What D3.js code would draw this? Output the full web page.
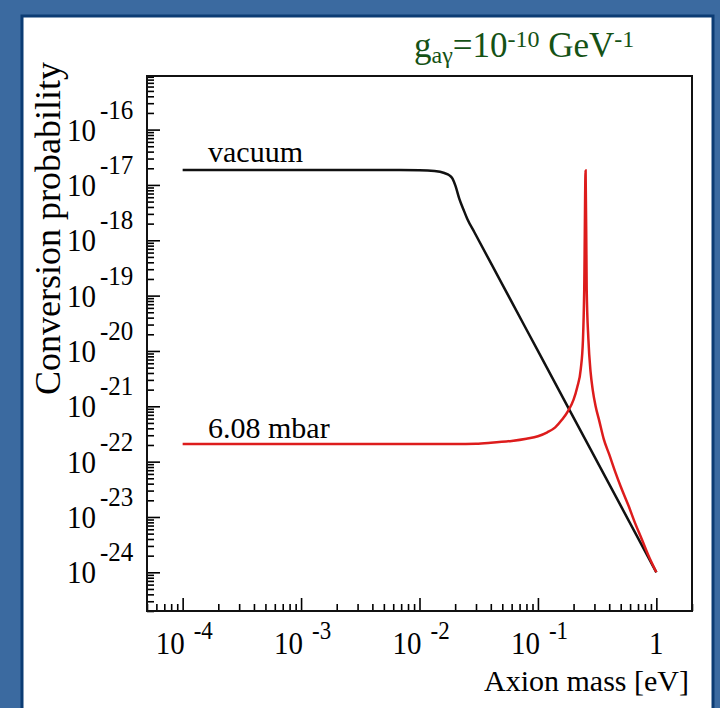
<!DOCTYPE html>
<html>
<head>
<meta charset="utf-8">
<script src="https://cdn.jsdelivr.net/npm/d3@7"></script>
<style>
  body { margin: 0; background: #3b6aa0; }
  svg { display: block; }
  text { font-family: "Liberation Serif", "Times New Roman", serif; }
</style>
</head>
<body>
<div id="chart"></div>
<script>
// vacuum curve
const vacuumMass = [1e-4, 1e-3, 5e-3, 0.01, 0.0134, 0.0162, 0.0179, 0.0190, 0.0201, 0.0217, 0.0235, 0.0254, 0.029, 0.05, 0.1, 0.2, 0.5, 1];
const vacuumProb = [1.86e-17, 1.86e-17, 1.86e-17, 1.84e-17, 1.78e-17, 1.64e-17, 1.49e-17, 1.30e-17, 9.7e-18, 5.6e-18, 3.6e-18, 2.4e-18, 1.41e-18, 1.6e-19, 1.0e-20, 6.25e-22, 1.6e-23, 1.0e-24];

// 6.08 mbar curve
const gasMass = [1e-4, 1e-3, 1e-2, 0.02, 0.03, 0.04, 0.06, 0.08, 0.1, 0.12, 0.14, 0.16, 0.18, 0.2, 0.215, 0.23, 0.24, 0.246, 0.2527,
  0.2581, 0.2667, 0.2785, 0.29, 0.3067, 0.33, 0.3602, 0.4, 0.4519, 0.5, 0.5848, 0.65, 0.7567, 0.85, 1];
const gasProb = [2.09e-22, 2.09e-22, 2.09e-22, 2.09e-22, 2.11e-22, 2.19e-22, 2.37e-22, 2.6e-22, 2.88e-22, 3.39e-22, 4.17e-22, 5.75e-22, 8.3e-22, 1.32e-21, 2.24e-21, 4.7e-21, 1.58e-20, 1.26e-19, 1.82e-17,
  1.32e-19, 1.64e-20, 4.13e-21, 2.0e-21, 1.01e-21, 5.4e-22, 2.52e-22, 1.35e-22, 6.34e-23, 3.55e-23, 1.56e-23, 8.5e-24, 3.87e-24, 2.1e-24, 1.0e-24];

// tick labels
const xDecades = [-4, -3, -2, -1, 0];
const yDecades = [-16, -17, -18, -19, -20, -21, -22, -23, -24];

const width = 720, height = 708;
const frame = { left: 147, right: 692, top: 76, bottom: 611 };

const svg = d3.select('#chart').append('svg')
  .attr('width', width)
  .attr('height', height);

/* slide background + white panel */
svg.append('rect').attr('width', width).attr('height', height).attr('fill', '#3b6aa0');
svg.append('rect')
  .attr('x', 22).attr('y', 16).attr('width', 691).attr('height', 700)
  .attr('fill', '#fff')
  .attr('stroke', '#0c3c74').attr('stroke-width', 3);

const x = d3.scaleLog().domain([5e-5, 2]).range([frame.left, frame.right]);
const y = d3.scaleLog().domain([2e-25, 9.3e-16]).range([frame.bottom, frame.top]);

/* major + minor tick values */
function logTicks(lo, hi) {
  const major = [], minor = [];
  for (let e = Math.floor(Math.log10(lo)); e <= Math.ceil(Math.log10(hi)); e++) {
    for (let k = 1; k <= 9; k++) {
      const v = k * Math.pow(10, e);
      if (v < lo * 0.999 || v > hi * 1.001) continue;
      (k === 1 ? major : minor).push(v);
    }
  }
  return { major, minor };
}
const xt = logTicks(5e-5, 2);
const yt = logTicks(2e-25, 9.3e-16);

const axisStyle = (g) => {
  g.select('.domain').remove();
  g.selectAll('line').attr('stroke', '#000').attr('stroke-width', 1.6);
};

svg.append('g')
  .attr('transform', `translate(0,${frame.bottom})`)
  .call(d3.axisBottom(x).tickValues(xt.major).tickSize(-13).tickFormat(''))
  .call(axisStyle);
svg.append('g')
  .attr('transform', `translate(0,${frame.bottom})`)
  .call(d3.axisBottom(x).tickValues(xt.minor).tickSize(-7).tickFormat(''))
  .call(axisStyle);
svg.append('g')
  .attr('transform', `translate(${frame.left},0)`)
  .call(d3.axisLeft(y).tickValues(yt.major).tickSize(-13).tickFormat(''))
  .call(axisStyle);
svg.append('g')
  .attr('transform', `translate(${frame.left},0)`)
  .call(d3.axisLeft(y).tickValues(yt.minor).tickSize(-7).tickFormat(''))
  .call(axisStyle);

/* frame */
svg.append('rect')
  .attr('x', frame.left).attr('y', frame.top)
  .attr('width', frame.right - frame.left).attr('height', frame.bottom - frame.top)
  .attr('fill', 'none').attr('stroke', '#111').attr('stroke-width', 2);

/* y tick labels: 10^n, slightly tall glyphs like the original */
const yLab = svg.append('g').selectAll('g').data(yDecades).join('g')
  .attr('transform', (d) => `translate(0,${y(Math.pow(10, d))})`);
yLab.append('text').attr('transform', 'translate(67,11) scale(1,1.12)')
  .attr('font-size', 29).text('10');
yLab.append('text').attr('transform', 'translate(100,-11) scale(1,1.12)')
  .attr('font-size', 25).text((d) => d);

/* x tick labels */
const xLab = svg.append('g').selectAll('g').data(xDecades).join('g')
  .attr('transform', (d) => `translate(${x(Math.pow(10, d))},0)`);
xLab.filter((d) => d !== 0).append('text')
  .attr('transform', 'translate(-27,654) scale(1,1.1)')
  .attr('font-size', 29).text('10');
xLab.filter((d) => d !== 0).append('text')
  .attr('transform', 'translate(11,639) scale(1,1.1)')
  .attr('font-size', 23).text((d) => d);
xLab.filter((d) => d === 0).append('text')
  .attr('transform', 'translate(0,654) scale(1,1.1)')
  .attr('font-size', 29).attr('text-anchor', 'middle').text('1');

/* axis titles */
svg.append('text')
  .attr('x', 689).attr('y', 691).attr('font-size', 30).attr('text-anchor', 'end')
  .text('Axion mass [eV]');
svg.append('text')
  .attr('transform', 'translate(60,62) rotate(-90)')
  .attr('font-size', 36).attr('text-anchor', 'end')
  .text('Conversion probability');

/* curves */
const line = d3.line()
  .x((d) => x(d[0]))
  .y((d) => y(d[1]))
  .curve(d3.curveMonotoneX);

svg.append('path')
  .datum(vacuumMass.map((m, i) => [m, vacuumProb[i]]))
  .attr('d', line)
  .attr('fill', 'none').attr('stroke', '#111').attr('stroke-width', 2.5);

svg.append('path')
  .datum(gasMass.map((m, i) => [m, gasProb[i]]))
  .attr('d', line)
  .attr('fill', 'none').attr('stroke', '#dd1c1c').attr('stroke-width', 2.5);

/* curve labels */
svg.append('text').attr('x', 208).attr('y', 162).attr('font-size', 30).text('vacuum');
svg.append('text').attr('x', 208).attr('y', 438).attr('font-size', 30).text('6.08 mbar');

/* coupling label */
const title = svg.append('text')
  .attr('x', 414).attr('y', 57)
  .attr('font-size', 35).attr('fill', '#155215');
title.append('tspan').text('g');
title.append('tspan').attr('font-size', 24).attr('dy', 6).text('aγ');
title.append('tspan').attr('dy', -6).text('=10');
title.append('tspan').attr('font-size', 24).attr('dy', -10).text('-10');
title.append('tspan').attr('dy', 10).text(' GeV');
title.append('tspan').attr('font-size', 24).attr('dy', -10).text('-1');
</script>
</body>
</html>
